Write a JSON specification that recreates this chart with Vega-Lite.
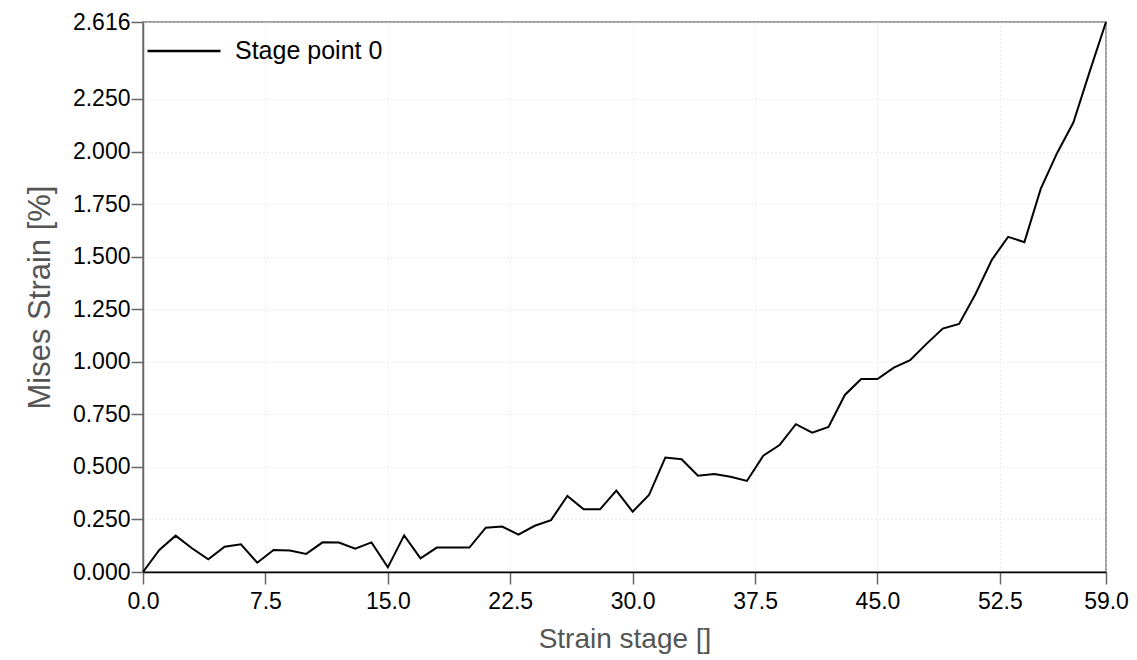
{
  "$schema": "https://vega.github.io/schema/vega-lite/v6.json",
  "width": 963,
  "height": 550,
  "autosize": {"type": "none"},
  "padding": {"left": 143, "top": 22, "right": 31, "bottom": 88},
  "background": "white",
  "config": {
    "font": "Liberation Sans",
    "view": {"stroke": "#808080", "strokeWidth": 1.5}
  },
  "data": {
    "values": [
      {"stage": 0, "strain": 0.0, "series": "Stage point 0"},
      {"stage": 1, "strain": 0.105, "series": "Stage point 0"},
      {"stage": 2, "strain": 0.173, "series": "Stage point 0"},
      {"stage": 3, "strain": 0.113, "series": "Stage point 0"},
      {"stage": 4, "strain": 0.06, "series": "Stage point 0"},
      {"stage": 5, "strain": 0.12, "series": "Stage point 0"},
      {"stage": 6, "strain": 0.132, "series": "Stage point 0"},
      {"stage": 7, "strain": 0.044, "series": "Stage point 0"},
      {"stage": 8, "strain": 0.105, "series": "Stage point 0"},
      {"stage": 9, "strain": 0.102, "series": "Stage point 0"},
      {"stage": 10, "strain": 0.086, "series": "Stage point 0"},
      {"stage": 11, "strain": 0.141, "series": "Stage point 0"},
      {"stage": 12, "strain": 0.14, "series": "Stage point 0"},
      {"stage": 13, "strain": 0.111, "series": "Stage point 0"},
      {"stage": 14, "strain": 0.141, "series": "Stage point 0"},
      {"stage": 15, "strain": 0.022, "series": "Stage point 0"},
      {"stage": 16, "strain": 0.174, "series": "Stage point 0"},
      {"stage": 17, "strain": 0.065, "series": "Stage point 0"},
      {"stage": 18, "strain": 0.116, "series": "Stage point 0"},
      {"stage": 19, "strain": 0.116, "series": "Stage point 0"},
      {"stage": 20, "strain": 0.116, "series": "Stage point 0"},
      {"stage": 21, "strain": 0.211, "series": "Stage point 0"},
      {"stage": 22, "strain": 0.216, "series": "Stage point 0"},
      {"stage": 23, "strain": 0.178, "series": "Stage point 0"},
      {"stage": 24, "strain": 0.22, "series": "Stage point 0"},
      {"stage": 25, "strain": 0.247, "series": "Stage point 0"},
      {"stage": 26, "strain": 0.362, "series": "Stage point 0"},
      {"stage": 27, "strain": 0.298, "series": "Stage point 0"},
      {"stage": 28, "strain": 0.298, "series": "Stage point 0"},
      {"stage": 29, "strain": 0.387, "series": "Stage point 0"},
      {"stage": 30, "strain": 0.287, "series": "Stage point 0"},
      {"stage": 31, "strain": 0.366, "series": "Stage point 0"},
      {"stage": 32, "strain": 0.544, "series": "Stage point 0"},
      {"stage": 33, "strain": 0.536, "series": "Stage point 0"},
      {"stage": 34, "strain": 0.458, "series": "Stage point 0"},
      {"stage": 35, "strain": 0.466, "series": "Stage point 0"},
      {"stage": 36, "strain": 0.453, "series": "Stage point 0"},
      {"stage": 37, "strain": 0.433, "series": "Stage point 0"},
      {"stage": 38, "strain": 0.553, "series": "Stage point 0"},
      {"stage": 39, "strain": 0.604, "series": "Stage point 0"},
      {"stage": 40, "strain": 0.703, "series": "Stage point 0"},
      {"stage": 41, "strain": 0.663, "series": "Stage point 0"},
      {"stage": 42, "strain": 0.69, "series": "Stage point 0"},
      {"stage": 43, "strain": 0.842, "series": "Stage point 0"},
      {"stage": 44, "strain": 0.918, "series": "Stage point 0"},
      {"stage": 45, "strain": 0.918, "series": "Stage point 0"},
      {"stage": 46, "strain": 0.972, "series": "Stage point 0"},
      {"stage": 47, "strain": 1.007, "series": "Stage point 0"},
      {"stage": 48, "strain": 1.085, "series": "Stage point 0"},
      {"stage": 49, "strain": 1.158, "series": "Stage point 0"},
      {"stage": 50, "strain": 1.18, "series": "Stage point 0"},
      {"stage": 51, "strain": 1.321, "series": "Stage point 0"},
      {"stage": 52, "strain": 1.484, "series": "Stage point 0"},
      {"stage": 53, "strain": 1.594, "series": "Stage point 0"},
      {"stage": 54, "strain": 1.569, "series": "Stage point 0"},
      {"stage": 55, "strain": 1.822, "series": "Stage point 0"},
      {"stage": 56, "strain": 1.992, "series": "Stage point 0"},
      {"stage": 57, "strain": 2.138, "series": "Stage point 0"},
      {"stage": 58, "strain": 2.38, "series": "Stage point 0"},
      {"stage": 59, "strain": 2.616, "series": "Stage point 0"}
    ]
  },
  "mark": {"type": "line", "strokeWidth": 2, "interpolate": "linear"},
  "encoding": {
    "x": {
      "field": "stage",
      "type": "quantitative",
      "scale": {"domain": [0, 59], "nice": false, "zero": false},
      "axis": {
        "title": "Strain stage []",
        "values": [0, 7.5, 15, 22.5, 30, 37.5, 45, 52.5, 59],
        "format": ".1f",
        "labelFontSize": 23,
        "labelColor": "#000000",
        "labelPadding": 6,
        "labelFlush": false,
        "labelOverlap": false,
        "titleFontSize": 28,
        "titleFontWeight": "normal",
        "titleColor": "#555555",
        "titlePadding": 12,
        "domainColor": "#000000",
        "domainWidth": 1.5,
        "tickColor": "#666666",
        "tickSize": 12,
        "tickWidth": 1.5,
        "grid": true,
        "gridColor": "#d9d9d9",
        "gridDash": [1, 3],
        "gridWidth": 1
      }
    },
    "y": {
      "field": "strain",
      "type": "quantitative",
      "scale": {"domain": [0, 2.616], "nice": false},
      "axis": {
        "title": "Mises Strain [%]",
        "values": [0, 0.25, 0.5, 0.75, 1.0, 1.25, 1.5, 1.75, 2.0, 2.25, 2.616],
        "format": ".3f",
        "labelFontSize": 23,
        "labelColor": "#000000",
        "labelPadding": 1,
        "labelFlush": false,
        "labelOverlap": false,
        "titleFontSize": 31,
        "titleFontWeight": "normal",
        "titleColor": "#555555",
        "titlePadding": 16,
        "domainColor": "#666666",
        "domainWidth": 1.5,
        "tickColor": "#666666",
        "tickSize": 12,
        "tickWidth": 1.5,
        "grid": true,
        "gridColor": "#d9d9d9",
        "gridDash": [1, 3],
        "gridWidth": 1
      }
    },
    "color": {
      "field": "series",
      "type": "nominal",
      "scale": {"range": ["#000000"]},
      "legend": {
        "title": null,
        "orient": "none",
        "legendX": 3,
        "legendY": -9,
        "symbolType": "stroke",
        "symbolSize": 5329,
        "symbolStrokeWidth": 2.5,
        "labelFontSize": 25,
        "labelColor": "#000000",
        "labelOffset": 13,
        "padding": 0
      }
    }
  }
}
